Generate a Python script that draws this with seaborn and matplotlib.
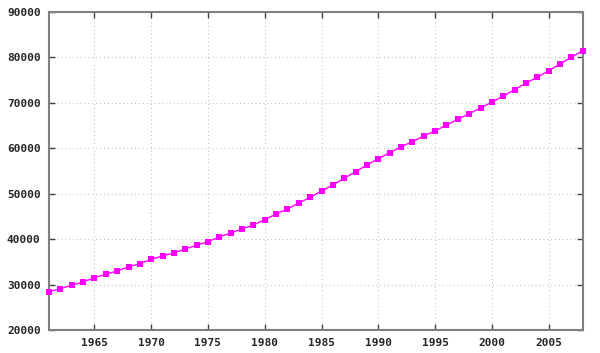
import numpy as np
import pandas as pd
import matplotlib
matplotlib.use("Agg")
import matplotlib.pyplot as plt
import seaborn as sns

years = list(range(1961, 2009))
population = [
    28430, 29100, 29840, 30570, 31520, 32260, 33000, 33880, 34600, 35570,
    36300, 36960, 37840, 38650, 39440, 40480, 41360, 42240, 43120, 44290,
    45540, 46640, 47960, 49210, 50600, 51920, 53400, 54850, 56330, 57710,
    59030, 60350, 61450, 62710, 63810, 65130, 66380, 67620, 68870, 70190,
    71450, 72900, 74370, 75630, 77080, 78550, 80030, 81480,
]
x_ticks = [1965, 1970, 1975, 1980, 1985, 1990, 1995, 2000, 2005]
y_ticks = [20000, 30000, 40000, 50000, 60000, 70000, 80000, 90000]

df = pd.DataFrame({"year": years, "pop": population})

sns.set_style("white")
plt.rcParams["font.family"] = ["DejaVu Sans Mono", "DejaVu Sans"]

fig = plt.figure(figsize=(6, 3.53), dpi=100)
ax = fig.add_axes([0.0817, 0.0652, 0.8895, 0.9008])

sns.lineplot(data=df, x="year", y="pop", ax=ax, color="#ff00ff",
             marker="s", markersize=4, markeredgewidth=0, linewidth=1.0,
             clip_on=False, zorder=3)

ax.set_xlim(1961, 2008)
ax.set_ylim(20000, 90000)
ax.set_xticks(x_ticks)
ax.set_yticks(y_ticks)
ax.set_xticklabels([str(t) for t in x_ticks], fontsize=8, fontweight="bold")
ax.set_yticklabels([str(t) for t in y_ticks], fontsize=8, fontweight="bold")
ax.set_xlabel("")
ax.set_ylabel("")

ax.grid(True, color="#b8b8b8", linestyle=(0, (1, 3)), linewidth=0.7)
ax.tick_params(direction="in", length=4, width=1, color="#404040",
               top=True, right=True, bottom=True, left=True, pad=6)
for s in ax.spines.values():
    s.set_color("#808080")
    s.set_linewidth(1.5)
    s.set_visible(True)

fig.savefig("out.png", dpi=100)
